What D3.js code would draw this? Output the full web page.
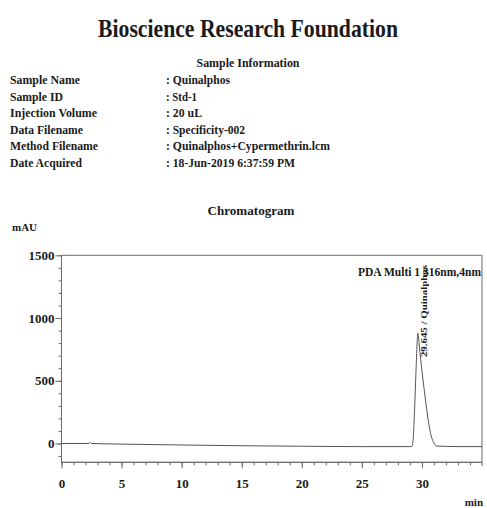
<!DOCTYPE html>
<html>
<head>
<meta charset="utf-8">
<script src="https://cdn.jsdelivr.net/npm/d3@7"></script>
<style>
  html, body { margin: 0; padding: 0; background: #fff; }
  svg { display: block; }
  text { font-family: "Liberation Serif", "Times New Roman", serif; font-weight: bold; fill: #1a1a1a; }
</style>
</head>
<body>
<svg id="chart" width="487" height="508"></svg>
<script>
// ---- data ----
const infoLabels = ["Sample Name", "Sample ID", "Injection Volume", "Data Filename", "Method Filename", "Date Acquired"];
const infoValues = [": Quinalphos", ": Std-1", ": 20 uL", ": Specificity-002", ": Quinalphos+Cypermethrin.lcm", ": 18-Jun-2019 6:37:59 PM"];
const timeMin = [0, 2.3, 2.4, 2.5, 5, 10, 15, 20, 25, 29.0, 29.2, 29.3, 29.4, 29.5, 29.6, 29.65, 29.7, 29.8, 30.0, 30.2, 30.4, 30.6, 30.8, 31.0, 31.2, 33, 35];
const signalMAU = [0, 0, 10, 0, -5, -12, -18, -22, -25, -25, -20, 80, 300, 560, 800, 880, 860, 760, 580, 420, 270, 140, 50, 5, -20, -25, -25];
const yMajorTicks = [0, 500, 1000, 1500];
const xMajorTicks = [0, 5, 10, 15, 20, 25, 30];
const peakLabel = "29.645 / Quinalphos";
const peakTime = 29.65;
const peakHeight = 880;

// ---- layout ----
const svg = d3.select("#chart");
const pLeft = 61.5, pRight = 482, pTop = 255.3, pBottom = 462.3;
const x = d3.scaleLinear().domain([0, 35]).range([pLeft, pRight]);
const y = d3.scaleLinear().domain([-150, 1500]).range([pBottom, pTop]);
const lineCol = "#6a6a6a";

// Title
svg.append("text").attr("x", 248).attr("y", 37).attr("text-anchor", "middle")
  .attr("font-size", 26).attr("textLength", 300).attr("lengthAdjust", "spacingAndGlyphs")
  .text("Bioscience Research Foundation");

svg.append("text").attr("x", 248).attr("y", 67).attr("text-anchor", "middle")
  .attr("font-size", 12).attr("textLength", 103).attr("lengthAdjust", "spacingAndGlyphs")
  .text("Sample Information");

const labelW = [70, 53, 87, 73, 88, 72];
const valueW = [64, 31, 36, 79, 164, 129];
const rowY = i => 84 + i * 16.6;
infoLabels.forEach((t, i) => {
  svg.append("text").attr("x", 10).attr("y", rowY(i)).attr("font-size", 12)
    .attr("textLength", labelW[i]).attr("lengthAdjust", "spacingAndGlyphs").text(t);
});
infoValues.forEach((t, i) => {
  svg.append("text").attr("x", 166).attr("y", rowY(i)).attr("font-size", 12)
    .attr("textLength", valueW[i]).attr("lengthAdjust", "spacingAndGlyphs").text(t);
});

svg.append("text").attr("x", 251).attr("y", 215).attr("text-anchor", "middle")
  .attr("font-size", 12).attr("textLength", 87).attr("lengthAdjust", "spacingAndGlyphs")
  .text("Chromatogram");

svg.append("text").attr("x", 12).attr("y", 231).attr("font-size", 11).text("mAU");
svg.append("text").attr("x", 483).attr("y", 506).attr("text-anchor", "end").attr("font-size", 11).text("min");

// Frame: top and right lines
svg.append("line").attr("x1", pLeft).attr("x2", pRight).attr("y1", y(1500)).attr("y2", y(1500))
  .attr("stroke", lineCol).attr("stroke-width", 1);
svg.append("line").attr("x1", pRight).attr("x2", pRight).attr("y1", pTop).attr("y2", pBottom + 4)
  .attr("stroke", lineCol).attr("stroke-width", 1);

// Y axis
const yMinor = d3.range(-100, 1501, 100);
const gyMinor = svg.append("g").attr("transform", `translate(${pLeft},0)`)
  .call(d3.axisLeft(y).tickValues(yMinor).tickSize(3).tickFormat(""));
const gy = svg.append("g").attr("transform", `translate(${pLeft},0)`)
  .call(d3.axisLeft(y).tickValues(yMajorTicks).tickSize(6).tickPadding(1).tickFormat(d3.format("d")));
[gyMinor, gy].forEach(g => {
  g.selectAll("path,line").attr("stroke", lineCol);
  g.select(".domain").attr("d", `M0,${pBottom}V${pTop}`);
});
gy.selectAll("text").attr("font-size", 13).attr("font-family", "Liberation Serif").attr("fill", "#1a1a1a");

// X axis
const xMinor = d3.range(0, 35, 1);
const gxMinor = svg.append("g").attr("transform", `translate(0,${pBottom})`)
  .call(d3.axisBottom(x).tickValues(xMinor).tickSize(3).tickFormat(""));
const gx = svg.append("g").attr("transform", `translate(0,${pBottom})`)
  .call(d3.axisBottom(x).tickValues(xMajorTicks).tickSize(6).tickPadding(10).tickFormat(d3.format("d")));
[gxMinor, gx].forEach(g => {
  g.selectAll("path,line").attr("stroke", lineCol);
  g.select(".domain").attr("d", `M${pLeft},0H${pRight}`);
});
gx.selectAll("text").attr("font-size", 13).attr("font-family", "Liberation Serif").attr("fill", "#1a1a1a");

// Trace
const line = d3.line().x((d, i) => x(timeMin[i])).y(d => y(d)).curve(d3.curveMonotoneX);
svg.append("path").datum(signalMAU).attr("d", line)
  .attr("fill", "none").attr("stroke", "#555").attr("stroke-width", 1);

// Peak label
const lx = x(peakTime) + 9, ly = y(peakHeight) + 24;
svg.append("text").attr("transform", `translate(${lx},${ly}) rotate(-90)`)
  .attr("font-size", 8.5).attr("font-weight", "normal").attr("textLength", 92).attr("lengthAdjust", "spacingAndGlyphs")
  .text(peakLabel);

// Detector label
svg.append("text").attr("x", 481).attr("y", 276).attr("text-anchor", "end")
  .attr("font-size", 12).attr("textLength", 123).attr("lengthAdjust", "spacingAndGlyphs")
  .text("PDA Multi 1 316nm,4nm");
</script>
</body>
</html>
